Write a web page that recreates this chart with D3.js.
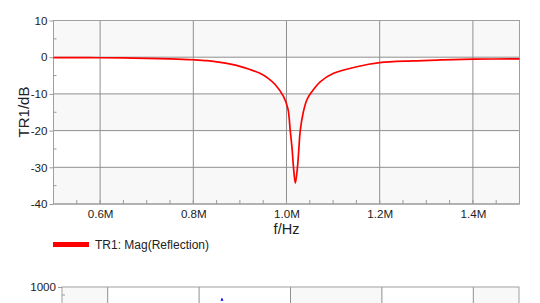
<!DOCTYPE html>
<html>
<head>
<meta charset="utf-8">
<script src="https://cdn.jsdelivr.net/npm/d3@7"></script>
<style>
  body { margin: 0; background: #fff; }
  svg text { font-family: "Liberation Sans", Arial, sans-serif; fill: #222; }
</style>
</head>
<body>
<script>
// reflection magnitude, frequency in MHz, value in dB
var freqMHz = [0.50, 0.55, 0.60, 0.65, 0.70, 0.75, 0.80, 0.83, 0.858, 0.88, 0.90, 0.92,
               0.943, 0.96, 0.976, 0.9935, 1.003, 1.008, 1.012, 1.015, 1.019,
               1.0235, 1.0265, 1.0295, 1.036, 1.0438, 1.0545, 1.0723, 1.101, 1.151, 1.20,
               1.27, 1.33, 1.40, 1.50]
var magDb   = [-0.1, -0.12, -0.15, -0.2, -0.3, -0.45, -0.7, -0.95, -1.4, -1.9, -2.5, -3.3,
               -4.4, -5.7, -7.5, -10.7, -14, -20, -25, -30, -34.3,
               -30, -25, -20, -15, -11.6, -9.4, -6.7, -4.4, -2.6, -1.5,
               -1.0, -0.75, -0.55, -0.45]

var xTicks = [0.6, 0.8, 1.0, 1.2, 1.4]
var xMinor = d3.range(0.55, 1.5, 0.05)
var yTicks = [10, 0, -10, -20, -30, -40]
var yMinor = [5, -5, -15, -25, -35]
var legendLabel = "TR1: Mag(Reflection)"

// second panel (only its top edge is in view)
var freq2MHz = [0.848, 0.850, 0.852]
var val2 = [850, 870, 850]
var y2Ticks = [1000]

var W = 540, H = 303
var svg = d3.select("body").append("svg")
            .attr("width", W)
            .attr("height", H)

var x = d3.scaleLinear().domain([0.5, 1.5]).range([53.5, 519.5])
var y = d3.scaleLinear().domain([-40, 10]).range([204, 20.5])

var fmtM = d => d.toFixed(1) + "M"
var fmtPlain = d => String(d)   // plain hyphen minus, like the instrument
var tickFont = 11.6

// horizontal bands
var bands = d3.range(yTicks.length - 1).map(i => [yTicks[i], yTicks[i + 1]])
svg.selectAll(".band")
   .data(bands)
   .enter()
   .append("rect")
   .attr("x", x(0.5))
   .attr("width", x(1.5) - x(0.5))
   .attr("y", d => y(d[0]))
   .attr("height", d => y(d[1]) - y(d[0]))
   .attr("fill", (d, i) => i % 2 == 0 ? "#f8f8f8" : "#fff")

// grid
svg.selectAll(".hgrid")
   .data(yTicks)
   .enter()
   .append("line")
   .attr("x1", x(0.5)).attr("x2", x(1.5))
   .attr("y1", d => y(d)).attr("y2", d => y(d))
   .attr("stroke", "#8f8f8f")
svg.selectAll(".vgrid")
   .data(xTicks)
   .enter()
   .append("line")
   .attr("x1", d => x(d)).attr("x2", d => x(d))
   .attr("y1", y(10)).attr("y2", y(-40))
   .attr("stroke", "#8f8f8f")

svg.append("rect")
   .attr("x", x(0.5)).attr("y", y(10))
   .attr("width", x(1.5) - x(0.5)).attr("height", y(-40) - y(10))
   .attr("fill", "none").attr("stroke", "#a0a0a0")

// minor ticks inside the frame
svg.selectAll(".xminor")
   .data(xMinor)
   .enter()
   .append("line")
   .attr("x1", d => x(d)).attr("x2", d => x(d))
   .attr("y1", y(-40)).attr("y2", y(-40) - 4)
   .attr("stroke", "#999")
svg.selectAll(".yminor")
   .data(yMinor)
   .enter()
   .append("line")
   .attr("x1", x(0.5)).attr("x2", x(0.5) + 3)
   .attr("y1", d => y(d)).attr("y2", d => y(d))
   .attr("stroke", "#999")

// axes
var yAxis = d3.axisLeft(y).tickValues(yTicks).tickFormat(fmtPlain).tickSize(4).tickPadding(2)
var gy = svg.append("g").attr("transform", "translate(" + x(0.5) + ",0)").call(yAxis)
var xAxis = d3.axisBottom(x).tickValues(xTicks).tickFormat(fmtM).tickSize(0).tickPadding(6)
var gx = svg.append("g").attr("transform", "translate(0," + y(-40) + ")").call(xAxis)
;[gx, gy].forEach(g => {
  g.select(".domain").remove()
  g.selectAll("line").attr("stroke", "#999")
  g.selectAll("text").attr("font-size", tickFont).attr("fill", "#222")
    .style("font-family", "'Liberation Sans', Arial, sans-serif")
})

svg.append("text")
   .attr("transform", "translate(29,112) rotate(-90)")
   .attr("text-anchor", "middle")
   .attr("font-size", 15)
   .text("TR1/dB")
svg.append("text")
   .attr("x", (x(0.5) + x(1.5)) / 2)
   .attr("y", 234)
   .attr("text-anchor", "middle")
   .attr("font-size", 14.5)
   .text("f/Hz")

// trace
var line = d3.line()
             .x((d, i) => x(freqMHz[i]))
             .y(d => y(d))
             .curve(d3.curveCatmullRom.alpha(0.5))
svg.append("path")
   .datum(magDb)
   .attr("d", line)
   .attr("fill", "none")
   .attr("stroke", "#f00")
   .attr("stroke-width", 1.7)

// legend
svg.append("rect")
   .attr("x", 53).attr("y", 242)
   .attr("width", 36).attr("height", 5)
   .attr("fill", "#f00")
svg.append("text")
   .attr("x", 95).attr("y", 249)
   .attr("font-size", 12)
   .text(legendLabel)

// second panel
var x2 = d3.scaleLinear().domain([0.5, 1.5]).range([62, 519])
var y2 = d3.scaleLinear().domain([-1000, 1000]).range([470, 287])
var band2 = [[0.5, 0.6, "#f8f8f8"], [0.6, 0.8, "#fff"], [0.8, 1.0, "#fff"],
             [1.0, 1.2, "#f8f8f8"], [1.2, 1.4, "#fff"], [1.4, 1.5, "#f8f8f8"]]
svg.selectAll(".band2")
   .data(band2)
   .enter()
   .append("rect")
   .attr("x", d => x2(d[0]))
   .attr("width", d => x2(d[1]) - x2(d[0]))
   .attr("y", 287).attr("height", H - 287)
   .attr("fill", d => d[2])
svg.selectAll(".vgrid2")
   .data(xTicks)
   .enter()
   .append("line")
   .attr("x1", d => x2(d)).attr("x2", d => x2(d))
   .attr("y1", 287).attr("y2", H)
   .attr("stroke", "#8f8f8f")
svg.append("rect")
   .attr("x", x2(0.5)).attr("y", y2(1000))
   .attr("width", x2(1.5) - x2(0.5)).attr("height", 200)
   .attr("fill", "none").attr("stroke", "#a0a0a0")
svg.append("line")
   .attr("x1", x2(0.5)).attr("x2", x2(0.5) + 3)
   .attr("y1", 295).attr("y2", 295)
   .attr("stroke", "#999")
var gy2 = svg.append("g").attr("transform", "translate(" + x2(0.5) + ",0)")
             .call(d3.axisLeft(y2).tickValues(y2Ticks).tickFormat(fmtPlain)
                     .tickSize(4).tickPadding(2))
gy2.select(".domain").remove()
gy2.selectAll("line").attr("stroke", "#999")
gy2.selectAll("text").attr("font-size", tickFont).attr("fill", "#222")
   .style("font-family", "'Liberation Sans', Arial, sans-serif")
svg.append("path")
   .datum(val2)
   .attr("d", d3.line().x((d, i) => x2(freq2MHz[i])).y(d => y2(d)))
   .attr("fill", "none")
   .attr("stroke", "#00f")
   .attr("stroke-width", 1.2)
</script>
</body>
</html>
